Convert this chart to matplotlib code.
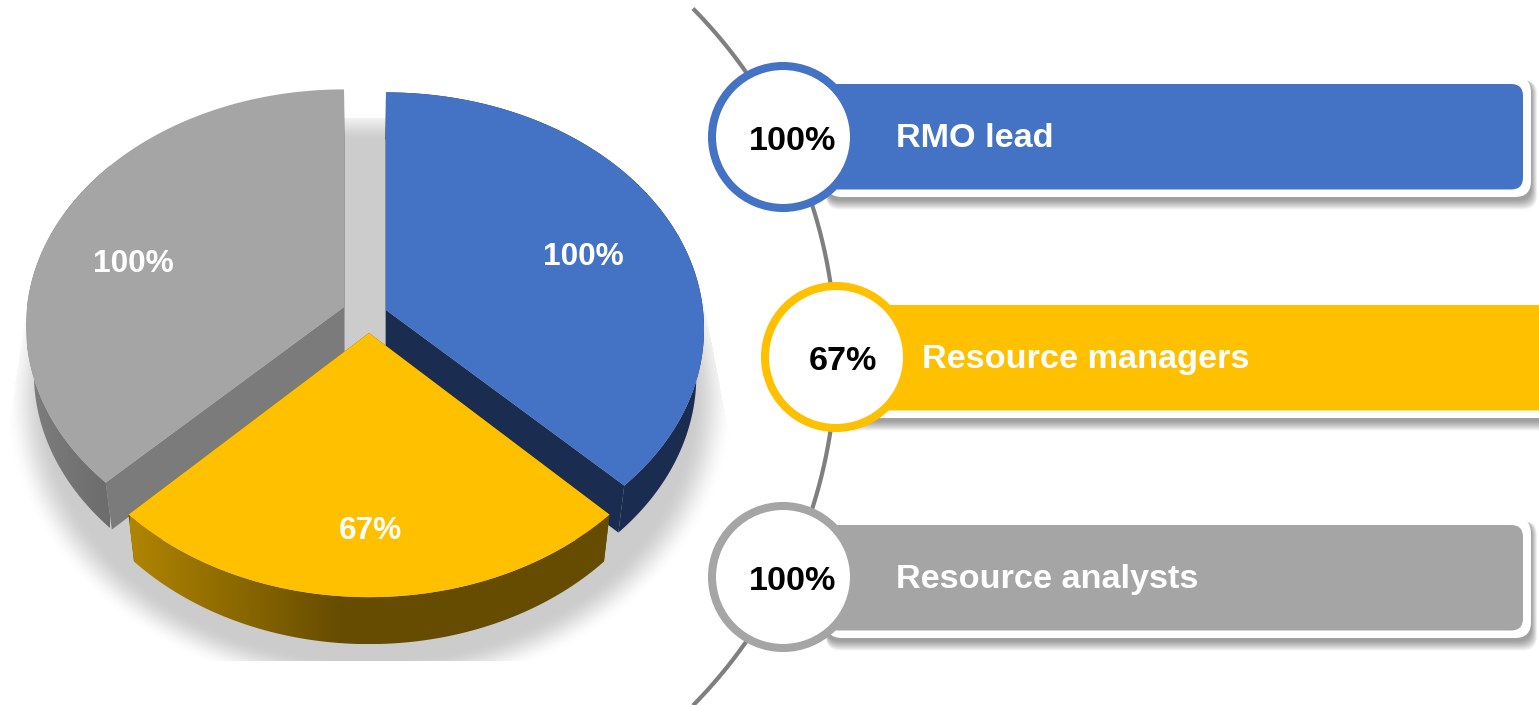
import numpy as np
import matplotlib
matplotlib.use("Agg")
import matplotlib.pyplot as plt
from matplotlib.colors import LinearSegmentedColormap
from matplotlib.patches import Polygon, FancyBboxPatch, Ellipse

# === DATA ===
roles = ["RMO lead", "Resource managers", "Resource analysts"]
pct = [100, 67, 100]

# === STYLE ===
colors = ["#4472C4", "#FFC000", "#A5A5A5"]
wall_colors = ["#1A2C50", "#664C00", "#7B7B7B"]
apex = [(386, 310), (369, 333), (344, 307)]  # exploded slice tips, in pixels
ry_list = [235, 243, 235]
rx_list = [317, 320, 317]
k = 0.08  # perspective
depth = 47
shrink = 0.977
mid_x = 369

circle_xy = [(783, 137), (836, 357), (783, 577)]
bar_top = [84, 305, 525]
bar_h = 105.5
bar_x = 826
bar_right = [1523, 1560, 1523]
text_x = [896, 922, 896]
pct_text_x = [793, 843, 793]
pie_label_xy = [(583, 257), (370, 531), (133, 264)]

W, H = 1539, 705
fig = plt.figure(figsize=(W / 100, H / 100), dpi=100)
ax = fig.add_axes([0, 0, 1, 1])
ax.axis("off")
FONT = "Liberation Sans"


def project(theta, c, rx, ry):
    u, v = np.cos(theta), np.sin(theta)
    w = 1 + k * v
    return np.column_stack([c[0] + rx * u / w, c[1] - ry * v / w])


def extrude(pts):
    out = pts.copy()
    out[:, 0] = mid_x + (pts[:, 0] - mid_x) * shrink
    out[:, 1] = pts[:, 1] + depth
    return out


def wall(pts):
    return np.vstack([pts, extrude(pts)[::-1]])


def grad_fill(poly, stops, x0, x1, z):
    cmap = LinearSegmentedColormap.from_list("g", stops)
    y0, y1 = poly[:, 1].min(), poly[:, 1].max()
    im = ax.imshow(np.linspace(0, 1, 256)[None, :], cmap=cmap, aspect="auto",
                   extent=[x0, x1, y1, y0], zorder=z)
    im.set_clip_path(Polygon(poly, closed=True, transform=ax.transData))


# === SHADOW ===
yy, xx = np.mgrid[0:H, 0:760]
r = np.sqrt(((xx - 369) / 357.0) ** 2 + ((yy - 400) / 288.0) ** 2)
alpha = np.clip((1.02 - r) / 0.12, 0, 1)
alpha = alpha * alpha * (3 - 2 * alpha)
left_edge = 27 - (yy - 300) * 22 / 150.0
right_edge = 703 + (yy - 300) * 27 / 140.0
alpha[(xx < left_edge) | (xx > right_edge) | (yy > 660) | (yy < 118)] = 0
rgba = np.zeros((H, 760, 4))
rgba[..., :3] = 0.8
rgba[..., 3] = alpha
ax.imshow(rgba, extent=[0, 760, H, 0], aspect="auto", zorder=1)

# === PIE ===
angles = 90 - np.cumsum([0] + pct) / sum(pct) * 360
draw_order = [2, 0, 1]
for n, i in enumerate(draw_order):
    th = np.radians(np.linspace(angles[i], angles[i + 1], 200))
    arc = project(th, apex[i], rx_list[i], ry_list[i])
    tip = np.array([apex[i]], dtype=float)
    z = 2 + n
    # cut faces
    for edge in (np.vstack([tip, arc[:1]]), np.vstack([tip, arc[-1:]])):
        ax.add_patch(Polygon(wall(edge), closed=True, fc=wall_colors[i], ec="none", zorder=z))
    # rim
    rim = wall(arc)
    if i == 1:
        grad_fill(rim, [(0, "#B08500"), (0.44, "#664C00"), (1, "#664C00")], 130, 610, z)
    elif i == 2:
        grad_fill(rim, [(0, "#7E7E7E"), (1, "#6C6C6C")], 27, 110, z)
    else:
        ax.add_patch(Polygon(rim, closed=True, fc=wall_colors[i], ec="none", zorder=z))
    # top
    ax.add_patch(Polygon(np.vstack([tip, arc]), closed=True, fc=colors[i], ec="none", zorder=z + 0.5))

for p, xy in zip(pct, pie_label_xy):
    ax.text(xy[0], xy[1], f"{p}%", color="white", fontsize=22.8, fontweight="bold",
            family=FONT, ha="center", va="center", zorder=10)

# === CURVE ===
t = np.linspace(-np.arcsin(347 / 496.0), np.arcsin(347 / 496.0), 300)
ax.plot(340 + 496 * np.cos(t), 357 + 496 * np.sin(t), color="#7F7F7F", lw=3.0, zorder=11)

# === BARS ===
for i, role in enumerate(roles):
    top = bar_top[i]
    right = bar_right[i]
    # soft shadow
    for d in range(1, 11):
        ax.add_patch(FancyBboxPatch((bar_x, top - 4), right + 8 - bar_x + d * 0.6, bar_h + 15 + d - 1,
                                    boxstyle="round,pad=0,rounding_size=14", fc="black", ec="none",
                                    alpha=0.045, zorder=12))
    ax.add_patch(FancyBboxPatch((bar_x, top - 7.5), right + 8 - bar_x, bar_h + 15,
                                boxstyle="round,pad=0,rounding_size=16", fc="white", ec="none", zorder=13))
    ax.add_patch(FancyBboxPatch((bar_x, top), right - bar_x, bar_h,
                                boxstyle="round,pad=0,rounding_size=12", fc=colors[i], ec="none", zorder=14))
    cx, cy = circle_xy[i]
    ax.add_patch(Ellipse((cx, cy), 142, 142, fc="white", ec=colors[i], lw=5.8, zorder=15))
    ax.text(pct_text_x[i], cy + 4, f"{pct[i]}%", color="black", fontsize=24.6, fontweight="bold",
            family=FONT, ha="center", va="center", zorder=16)
    ax.text(text_x[i], top + 54.5, role, color="white", fontsize=24.7, fontweight="bold",
            family=FONT, ha="left", va="center", zorder=16)

ax.set_xlim(0, W)
ax.set_ylim(H, 0)
fig.savefig("out.png", dpi=100, facecolor="white")
